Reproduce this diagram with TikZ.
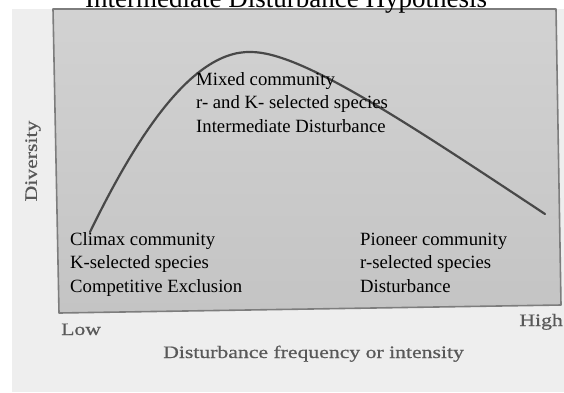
\documentclass[tikz,border=0pt]{standalone}
\usepackage{fontspec}
\setmainfont{Liberation Serif}
\newfontfamily\axisfont[FakeStretch=1.24,FakeBold=0.6]{Liberation Serif}
\definecolor{pagebg}{RGB}{238,238,238}
\definecolor{boxtop}{RGB}{210,210,210}
\definecolor{boxbottom}{RGB}{196,196,196}
\definecolor{boxedge}{RGB}{125,125,125}
\definecolor{curvecol}{RGB}{72,72,72}
\definecolor{axistext}{RGB}{88,88,88}
\tikzset{
  boxtext/.style={anchor=base west, inner sep=0pt, text=black,
    font=\fontsize{18.7bp}{23.5bp}\selectfont},
  axislabel/.style={inner sep=0pt, text=axistext,
    font=\axisfont\fontsize{17.5bp}{21bp}\selectfont},
  titletext/.style={anchor=base west, inner sep=0pt, text=black,
    font=\fontsize{27bp}{32bp}\selectfont},
  curveline/.style={draw=curvecol, line width=2.2bp, line cap=round}
}
\begin{document}
\begin{tikzpicture}[x=1bp,y=-1bp]
\useasboundingbox (0,0) rectangle (564,392);
\clip (0,0) rectangle (564,392);
\fill[white] (0,0) rectangle (564,392);
\fill[pagebg] (12,9) rectangle (564,392);
% gray plot box
\shade[top color=boxtop, bottom color=boxbottom]
  (53,9) -- (556,9) -- (561,305) -- (59,313) -- cycle;
\draw[boxedge, line width=1.6bp, line join=round]
  (53,9) -- (556,9) -- (561,305) -- (59,313) -- cycle;
% title
\node[titletext] (title) at (85,7.5) {Intermediate Disturbance Hypothesis};
% curve
\coordinate (cstart) at (90,232);
\coordinate (cpeak) at (251,52);
\coordinate (cend) at (545,214);
\draw[curveline] (cstart) .. controls (130,150) and (188,50) .. (cpeak)
  .. controls (300,52) and (400,118) .. (cend);
% middle text
\node[boxtext] (mix1) at (196,85) {Mixed community};
\node[boxtext] (mix2) at (196,108.5) {r- and K- selected species};
\node[boxtext] (mix3) at (196,132) {Intermediate Disturbance};
% left text
\node[boxtext] (cli1) at (70,245) {Climax community};
\node[boxtext] (cli2) at (70,268.5) {K-selected species};
\node[boxtext] (cli3) at (70,292) {Competitive Exclusion};
% right text
\node[boxtext] (pio1) at (360,245) {Pioneer community};
\node[boxtext] (pio2) at (360,268.5) {r-selected species};
\node[boxtext] (pio3) at (360,292) {Disturbance};
% axis labels
\node[axislabel, anchor=base west] (low) at (61,335) {Low};
\node[axislabel, anchor=base east] (high) at (563,326) {High};
\node[axislabel, anchor=base west] (xlab) at (163,358) {Disturbance frequency or intensity};
\node[axislabel, rotate=90] (ylab) at (33,161) {Diversity};
\end{tikzpicture}
\end{document}
